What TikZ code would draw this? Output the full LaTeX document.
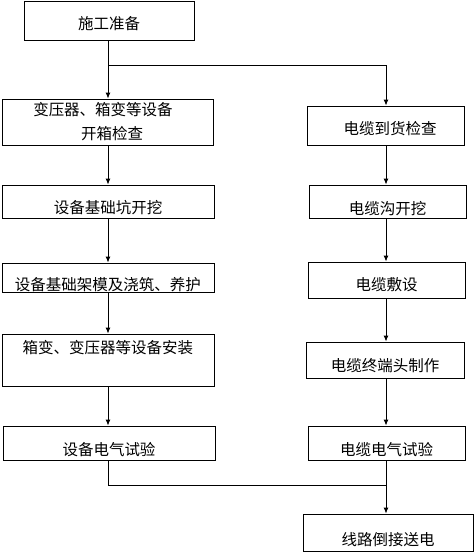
\documentclass[tikz,border=0pt]{standalone}
\usepackage{fontspec}
\newfontfamily\cjk{Noto Sans CJK SC}
\usetikzlibrary{arrows.meta}
\newcommand{\mydn}[2]{\raisebox{-#1}[\height][\depth]{#2}}
\begin{document}
\begin{tikzpicture}[x=1pt,y=-1pt,
  box/.style={draw, line width=0.9pt, inner sep=0pt, align=center,
    font=\cjk\fontsize{15.5}{24}\selectfont},
  ln/.style={line width=0.9pt},
  arr/.style={line width=0.9pt, -{Latex[length=6pt,width=5pt]}}]
\useasboundingbox (0,0) rectangle (475,552);
% left column
\node[box, minimum width=170pt, minimum height=39pt] (n1) at (109,20.5) {\mydn{3.5pt}{施工准备}};
\node[box, minimum width=211pt, minimum height=46pt] (n2) at (107.5,122) {变压器、箱变等设备\hspace*{9pt}\\\hspace*{9pt}开箱检查};
\node[box, minimum width=212pt, minimum height=33pt] (n3) at (108,201.5) {\mydn{6.5pt}{设备基础坑开挖}};
\node[box, minimum width=212pt, minimum height=29pt] (n4) at (108,277.5) {\mydn{7pt}{设备基础架模及浇筑、养护}};
\node[box, minimum width=212pt, minimum height=52pt] (n5) at (108,360) {\mydn{-12.5pt}{箱变、变压器等设备安装}};
\node[box, minimum width=212pt, minimum height=34pt] (n6) at (109,443) {\mydn{7pt}{设备电气试验}};
% right column
\node[box, minimum width=157pt, minimum height=39pt] (m2) at (385.5,125.5) {\mydn{3pt}{\hspace*{9pt}电缆到货检查}};
\node[box, minimum width=157pt, minimum height=33pt] (m3) at (387.5,201.5) {\mydn{7pt}{电缆沟开挖}};
\node[box, minimum width=157pt, minimum height=36pt] (m4) at (386.5,280) {\mydn{5pt}{电缆敷设}};
\node[box, minimum width=158pt, minimum height=36pt] (m5) at (385,360) {\mydn{6pt}{电缆终端头制作}};
\node[box, minimum width=157pt, minimum height=34pt] (m6) at (386.5,443) {\mydn{7pt}{电缆电气试验}};
\node[box, minimum width=170pt, minimum height=37pt] (m7) at (388,532.5) {\mydn{7pt}{线路倒接送电}};
% helper coordinates
\coordinate (colL) at (108,0);
\coordinate (colR) at (386,0);
\coordinate (jt) at (108,65);
\coordinate (jb) at (386,485);
% connectors
\draw[arr] (n1.south -| colL) -- (n2.north -| colL);
\draw[arr] (jt) -| (m2.north -| colR);
\draw[arr] (n2.south -| colL) -- (n3.north -| colL);
\draw[arr] (n3.south -| colL) -- (n4.north -| colL);
\draw[arr] (n4.south -| colL) -- (n5.north -| colL);
\draw[arr] (n5.south -| colL) -- (n6.north -| colL);
\draw[arr] (m2.south -| colR) -- (m3.north -| colR);
\draw[arr] (m3.south -| colR) -- (m4.north -| colR);
\draw[arr] (m4.south -| colR) -- (m5.north -| colR);
\draw[arr] (m5.south -| colR) -- (m6.north -| colR);
\draw[ln] (n6.south -| colL) |- (jb);
\draw[arr] (m6.south -| colR) -- (m7.north -| colR);
\end{tikzpicture}
\end{document}
